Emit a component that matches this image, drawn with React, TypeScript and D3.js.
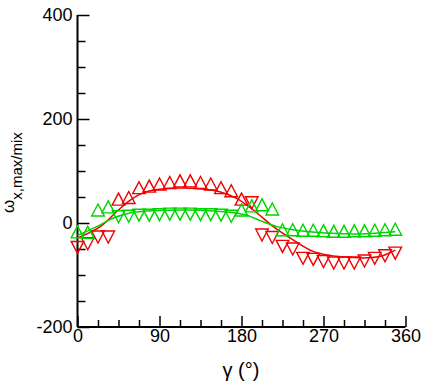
import React, { useEffect, useRef } from 'react'
import * as d3 from 'd3'

// sampling angles of the markers (deg)
const gammaDeg = [0, 11.25, 22.5, 33.75, 45, 56.25, 67.5, 78.75, 90, 101.25, 112.5, 123.75, 135, 146.25, 157.5, 168.75,
  180, 191.25, 202.5, 213.75, 225, 236.25, 247.5, 258.75, 270, 281.25, 292.5, 303.75, 315, 326.25, 337.5, 348.75]

const redValues = [-47, -40, -27, -27, 46, 49, 68, 71, 75, 78, 81, 81, 78, 75, 68, 62,
  46, 39, -23, -28, -45, -50, -68, -70, -74, -77, -77, -77, -73, -68, -63, -58]
const redMarkers = 'vvvv^^^^^^^^^^^^^vvvvvvvvvvvvvvv'.split('')

const greenValues = [-17, -18, 25, 31, 12, 13, 15, 15, 16, 17, 17, 17, 16, 16, 15, 13,
  25, 33, 35, 27, -13, -13, -14, -14, -15, -16, -16, -15, -15, -14, -13, -12]
const greenMarkers = '^^^^vvvvvvvvvvvv^^^^^^^^^^^^^^^^'.split('')

// smooth fit curves
const redFitGamma = [0, 25, 43, 58, 72, 90, 125, 156, 175, 193, 215, 237, 259, 290, 330, 348.75]
const redFitValues = [-29, -7, 22, 44, 58, 65, 67, 60, 47, 25, -7, -33, -55, -65, -65, -52]

const greenFitGamma = [0, 20, 40, 60, 90, 120, 150, 170, 186, 200, 219, 255, 310, 348.75]
const greenFitValues = [-24, -8, 10, 20, 24, 25, 23, 20, 15, 5, -7, -17, -21, -17]

const xMajorTicks = [0, 90, 180, 270, 360]
const xMinorTicks = [22.5, 45, 67.5, 112.5, 135, 157.5, 202.5, 225, 247.5, 292.5, 315, 337.5]
const yMajorTicks = [-200, 0, 200, 400]
const yMinorTicks = [-150, -100, -50, 50, 100, 150, 250, 300, 350]

const RED = '#f00000'
const GREEN = '#00d400'

function triangle(cx: number, cy: number, dir: string) {
  const w = 6.3, h = 6
  if (dir === '^') return `M${cx - w},${cy + h}L${cx + w},${cy + h}L${cx},${cy - h}Z`
  return `M${cx - w},${cy - h}L${cx + w},${cy - h}L${cx},${cy + h}Z`
}

export default function App() {
  const axisRef = useRef<SVGGElement>(null)

  const x = d3.scaleLinear().domain([0, 360]).range([77.5, 405.5])
  const y = d3.scaleLinear().domain([-200, 400]).range([327, 15])

  useEffect(() => {
    const g = d3.select(axisRef.current)
    g.selectAll('*').remove()

    const font = '"Liberation Sans", Arial, sans-serif'

    const xAxis = g.append('g').attr('transform', `translate(0,${y(-200)})`)
    xAxis.call(d3.axisBottom(x).tickValues(xMajorTicks).tickSize(-11).tickPadding(2).tickFormat(d => String(d)))
    xAxis.append('g').call(d3.axisBottom(x).tickValues(xMinorTicks).tickSize(-7).tickFormat(() => ''))

    const yAxis = g.append('g').attr('transform', `translate(${x(0)},0)`)
    yAxis.call(d3.axisLeft(y).tickValues(yMajorTicks).tickSize(-12).tickPadding(5).tickFormat(d => String(d)))
    yAxis.append('g').call(d3.axisLeft(y).tickValues(yMinorTicks).tickSize(-8).tickFormat(() => ''))

    g.selectAll('.domain').remove()
    g.selectAll('.tick line').attr('stroke', '#000').attr('stroke-width', 1.5)
    g.selectAll('.tick text').attr('fill', '#000').style('font-family', font).style('font-size', '18px')

    g.append('line').attr('x1', x(0)).attr('x2', x(0)).attr('y1', y(400)).attr('y2', y(-200))
      .attr('stroke', '#000').attr('stroke-width', 2)
    g.append('line').attr('x1', x(0)).attr('x2', x(360)).attr('y1', y(-200)).attr('y2', y(-200))
      .attr('stroke', '#000').attr('stroke-width', 2)
  }, [])

  const line = d3.line<[number, number]>()
    .x(d => x(d[0]))
    .y(d => y(d[1]))
    .curve(d3.curveCatmullRom.alpha(0.5))

  const redFit = line(redFitGamma.map((g, i) => [g, redFitValues[i]]))
  const greenFit = line(greenFitGamma.map((g, i) => [g, greenFitValues[i]]))

  return (
    <svg width={425} height={384} style={{ position: 'absolute', left: 0, top: 0, background: '#fff' }}>
      <g ref={axisRef} />

      <path d={redFit || ''} fill='none' stroke={RED} strokeWidth={1.5} />
      {gammaDeg.map((g, i) => (
        <path key={'r' + i} d={triangle(x(g), y(redValues[i]), redMarkers[i])}
          fill='none' stroke={RED} strokeWidth={1.4} />
      ))}

      <path d={greenFit || ''} fill='none' stroke={GREEN} strokeWidth={1.5} />
      {gammaDeg.map((g, i) => (
        <path key={'g' + i} d={triangle(x(g), y(greenValues[i]), greenMarkers[i])}
          fill='none' stroke={GREEN} strokeWidth={1.4} />
      ))}

      <text x={241} y={377} textAnchor='middle'
        style={{ fontFamily: '"Liberation Sans", Arial, sans-serif', fontSize: 20 }}>γ (°)</text>

      <text transform='translate(14,213) rotate(-90)'
        style={{ fontFamily: '"Liberation Sans", Arial, sans-serif', fontSize: 17 }}>
        <tspan>ω</tspan>
        <tspan dy={8} style={{ fontSize: 15 }}>x,max/mix</tspan>
      </text>
    </svg>
  )
}
